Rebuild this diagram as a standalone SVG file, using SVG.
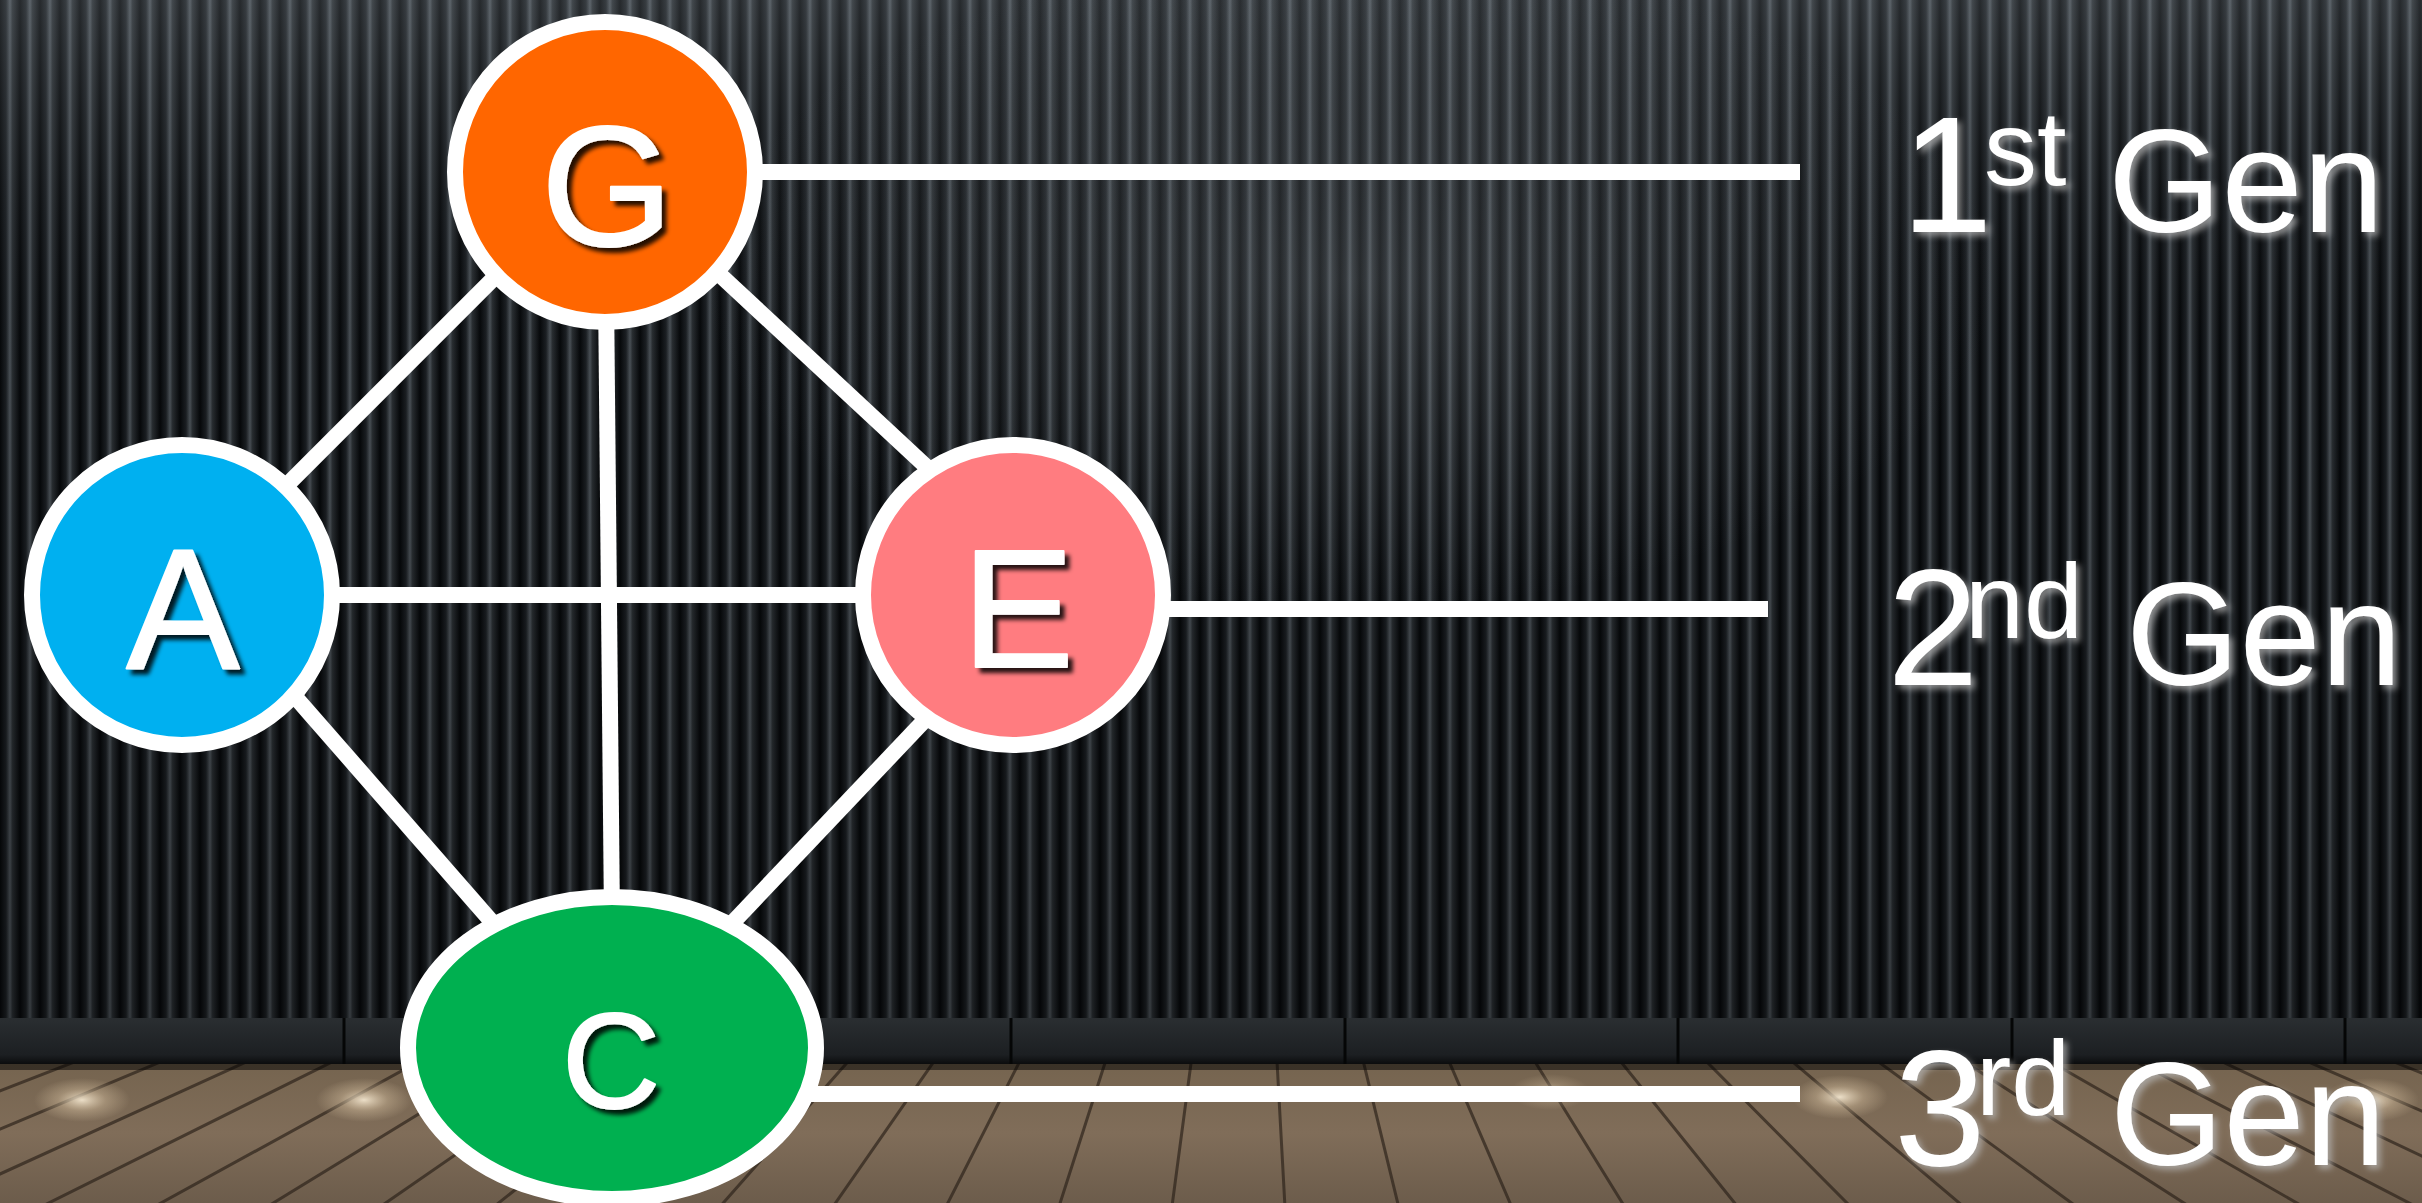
<svg xmlns="http://www.w3.org/2000/svg" width="2422" height="1203" viewBox="0 0 2422 1203">
<defs>
<linearGradient id="ridge" x1="0" y1="0" x2="1" y2="0">
<stop offset="0" stop-color="#06080a"/>
<stop offset="0.3" stop-color="#1c2024"/>
<stop offset="0.5" stop-color="#4d545a"/>
<stop offset="0.62" stop-color="#2a2f33"/>
<stop offset="1" stop-color="#06080a"/>
</linearGradient>
<pattern id="wall" patternUnits="userSpaceOnUse" width="20" height="40">
<rect width="20" height="40" fill="url(#ridge)"/>
</pattern>
<linearGradient id="wallShade" x1="0" y1="0" x2="0" y2="1">
<stop offset="0" stop-color="#9aa3aa" stop-opacity="0.22"/>
<stop offset="0.35" stop-color="#000" stop-opacity="0.05"/>
<stop offset="1" stop-color="#000" stop-opacity="0.3"/>
</linearGradient>
<radialGradient id="haze" cx="0.5" cy="0.5" r="0.5">
<stop offset="0" stop-color="#a0a8ae" stop-opacity="0.2"/>
<stop offset="1" stop-color="#a0a8ae" stop-opacity="0"/>
</radialGradient>
<linearGradient id="board" x1="0" y1="0" x2="0" y2="1">
<stop offset="0" stop-color="#2a2e31"/>
<stop offset="0.8" stop-color="#1c1f22"/>
<stop offset="1" stop-color="#0b0c0d"/>
</linearGradient>
<linearGradient id="floor" x1="0" y1="0" x2="0" y2="1">
<stop offset="0" stop-color="#75644f"/>
<stop offset="0.5" stop-color="#806d59"/>
<stop offset="1" stop-color="#6c5c4b"/>
</linearGradient>
<radialGradient id="spot" cx="0.5" cy="0.5" r="0.5">
<stop offset="0" stop-color="#fff3dc" stop-opacity="0.85"/>
<stop offset="0.5" stop-color="#e8d2b0" stop-opacity="0.35"/>
<stop offset="1" stop-color="#e8d2b0" stop-opacity="0"/>
</radialGradient>
<clipPath id="floorClip"><rect x="0" y="1064" width="2422" height="139"/></clipPath>
<filter id="nodeShadow" x="-20%" y="-20%" width="150%" height="150%">
<feDropShadow dx="5" dy="5" stdDeviation="2" flood-color="#000" flood-opacity="0.85"/>
</filter>
<filter id="labelShadow" x="-20%" y="-20%" width="150%" height="150%">
<feDropShadow dx="4" dy="4" stdDeviation="3" flood-color="#b8b8b8" flood-opacity="0.7"/>
</filter>
<style>
.edge{stroke:#fff;stroke-width:16;fill:none}
.node{stroke:#fff;stroke-width:16}
.letter{font-family:"Liberation Sans",Arial,sans-serif;fill:#fff;stroke:#fff;stroke-width:2;stroke-linejoin:round;text-anchor:middle;filter:url(#nodeShadow)}
.lbl{font-family:"Liberation Sans",Arial,sans-serif;fill:#fff;filter:url(#labelShadow)}
</style>
</defs>

<g id="background">
<rect width="2422" height="1064" fill="url(#wall)"/>
<rect width="2422" height="1064" fill="url(#wallShade)"/>
<ellipse cx="1350" cy="280" rx="650" ry="330" fill="url(#haze)"/>
<rect x="0" y="1018" width="2422" height="46" fill="url(#board)"/>
<path d="M344 1018V1064M678 1018V1064M1011 1018V1064M1345 1018V1064M1678 1018V1064M2012 1018V1064M2345 1018V1064" stroke="#050606" stroke-width="3"/>
<rect x="0" y="1064" width="2422" height="139" fill="url(#floor)"/>
<g clip-path="url(#floorClip)">
<path stroke="#2e241b" stroke-width="3" stroke-opacity="0.7" fill="none" d="M1252 604L-1220 1500M1252 604L-1052 1500M1252 604L-884 1500M1252 604L-716 1500M1252 604L-548 1500M1252 604L-380 1500M1252 604L-212 1500M1252 604L-44 1500M1252 604L125 1500M1252 604L293 1500M1252 604L461 1500M1252 604L629 1500M1252 604L797 1500M1252 604L965 1500M1252 604L1133 1500M1252 604L1301 1500M1252 604L1470 1500M1252 604L1638 1500M1252 604L1806 1500M1252 604L1974 1500M1252 604L2142 1500M1252 604L2310 1500M1252 604L2478 1500M1252 604L2646 1500M1252 604L2815 1500M1252 604L2983 1500M1252 604L3151 1500M1252 604L3319 1500M1252 604L3487 1500"/>
<ellipse cx="82" cy="1100" rx="48" ry="22" fill="url(#spot)"/>
<ellipse cx="364" cy="1100" rx="48" ry="22" fill="url(#spot)"/>
<ellipse cx="1550" cy="1092" rx="40" ry="18" fill="url(#spot)" opacity="0.6"/>
<ellipse cx="1840" cy="1097" rx="48" ry="22" fill="url(#spot)"/>
<ellipse cx="2371" cy="1100" rx="48" ry="22" fill="url(#spot)"/>
<rect x="0" y="1064" width="2422" height="6" fill="#000" opacity="0.5"/>
</g>
</g>

<g id="connectors">
<line class="edge" x1="520" y1="252" x2="262" y2="510"/>
<line class="edge" x1="690" y1="247" x2="960" y2="498"/>
<line class="edge" x1="606" y1="290" x2="612" y2="920"/>
<line class="edge" x1="300" y1="595" x2="900" y2="595"/>
<line class="edge" x1="270" y1="668" x2="520" y2="954"/>
<line class="edge" x1="960" y1="683" x2="700" y2="957"/>
<line class="edge" x1="740" y1="172" x2="1800" y2="172"/>
<line class="edge" x1="1150" y1="609" x2="1768" y2="609"/>
<line class="edge" x1="790" y1="1094" x2="1800" y2="1094"/>
</g>

<g id="node-G">
<circle class="node" cx="605" cy="172" r="150" fill="#FF6600"/>
<text class="letter" x="607" y="245" font-size="170">G</text>
</g>
<g id="node-A">
<circle class="node" cx="182" cy="595" r="150" fill="#00B0F0"/>
<text class="letter" x="183" y="668" font-size="170">A</text>
</g>
<g id="node-E">
<circle class="node" cx="1013" cy="595" r="150" fill="#FF7C80"/>
<text class="letter" x="1018" y="667" font-size="168">E</text>
</g>
<g id="node-C">
<ellipse class="node" cx="612" cy="1048" rx="204" ry="151" fill="#00B050"/>
<text class="letter" x="611" y="1108" font-size="136">C</text>
</g>

<g id="label-1st">
<text class="lbl"><tspan x="1901" y="232" font-size="165">1</tspan><tspan x="1984" y="185" font-size="106">st</tspan><tspan x="2108" y="232" font-size="146">Gen</tspan></text>
</g>
<g id="label-2nd">
<text class="lbl"><tspan x="1887" y="685" font-size="165">2</tspan><tspan x="1965" y="638" font-size="106">nd</tspan><tspan x="2126" y="685" font-size="146">Gen</tspan></text>
</g>
<g id="label-3rd">
<text class="lbl"><tspan x="1894" y="1165" font-size="165">3</tspan><tspan x="1976" y="1115" font-size="106">rd</tspan><tspan x="2110" y="1165" font-size="146">Gen</tspan></text>
</g>
</svg>
